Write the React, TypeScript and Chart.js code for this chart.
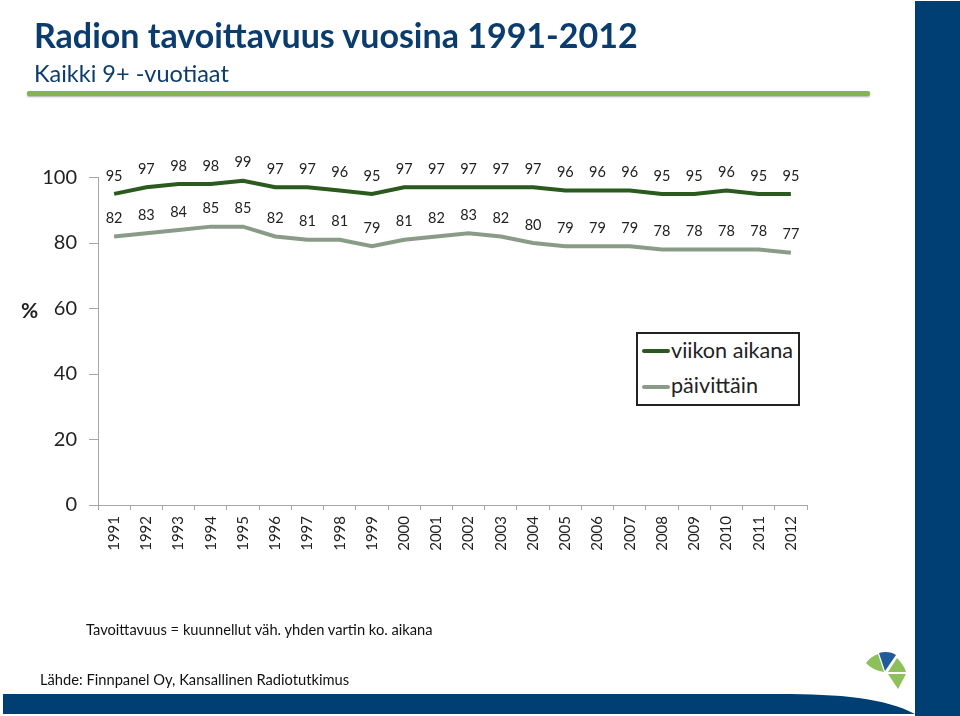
import React, { useEffect, useRef } from "react";
import { Chart, registerables } from "chart.js";

Chart.register(...registerables);

const years = ["1991","1992","1993","1994","1995","1996","1997","1998","1999","2000","2001","2002","2003","2004","2005","2006","2007","2008","2009","2010","2011","2012"];
const weekly = [95,97,98,98,99,97,97,96,95,97,97,97,97,97,96,96,96,95,95,96,95,95];
const daily = [82,83,84,85,85,82,81,81,79,81,82,83,82,80,79,79,79,78,78,78,78,77];
const weeklyName = "viikon aikana";
const dailyName = "päivittäin";
const titleText = "Radion tavoittavuus vuosina 1991-2012";
const subtitleText = "Kaikki 9+ -vuotiaat";
const noteText = "Tavoittavuus = kuunnellut väh. yhden vartin ko. aikana";
const sourceText = "Lähde: Finnpanel Oy, Kansallinen Radiotutkimus";
const unitText = "%";

const FONT = "Lato";
const NAVY = "#003f74";
const WEEKLY_COLOR = "#2b5a1e";
const DAILY_COLOR = "#8a9c88";

const valueLabels = {
  id: "valueLabels",
  afterDatasetsDraw(chart: any) {
    const { ctx } = chart;
    ctx.save();
    ctx.font = `14.5px ${FONT}`;
    ctx.fillStyle = "#222";
    ctx.textAlign = "center";
    ctx.textBaseline = "middle";
    chart.data.datasets.forEach((ds: any, i: number) => {
      chart.getDatasetMeta(i).data.forEach((pt: any, j: number) => {
        ctx.fillText(String(ds.data[j]), pt.x, pt.y - 18);
      });
    });
    ctx.restore();
  },
};

function text(style: React.CSSProperties, content: string) {
  return (
    <div style={{ position: "absolute", whiteSpace: "nowrap", fontFamily: FONT, lineHeight: 1, ...style }}>{content}</div>
  );
}

export default function App() {
  const ref = useRef<HTMLCanvasElement>(null);
  useEffect(() => {
    const chart = new Chart(ref.current!, {
      type: "line",
      data: {
        labels: years,
        datasets: [
          { label: weeklyName, data: weekly, borderColor: WEEKLY_COLOR, borderWidth: 4, pointRadius: 0, tension: 0, clip: false },
          { label: dailyName, data: daily, borderColor: DAILY_COLOR, borderWidth: 4, pointRadius: 0, tension: 0, clip: false },
        ],
      },
      options: {
        responsive: false,
        animation: false,
        layout: { padding: { left: 0, top: 177.5, right: 153, bottom: 151 } },
        plugins: { legend: { display: false }, title: { display: false }, tooltip: { enabled: false } },
        scales: {
          x: {
            offset: true,
            afterFit(scale: any) { scale.height = 60; scale.paddingLeft = 0; scale.paddingRight = 0; },
            border: { color: "#a6a6a6", width: 1 },
            grid: { drawOnChartArea: false, drawTicks: true, tickLength: 5, color: "#a6a6a6", offset: true },
            ticks: { minRotation: 90, maxRotation: 90, autoSkip: false, color: "#222", padding: 6, font: { family: FONT, size: 15 } },
          },
          y: {
            min: 0,
            max: 100,
            afterFit(scale: any) { scale.width = 98; },
            border: { color: "#a6a6a6", width: 1 },
            grid: { drawOnChartArea: false, drawTicks: true, tickLength: 9, color: "#a6a6a6" },
            ticks: { stepSize: 20, color: "#222", padding: 12, font: { family: FONT, size: 20 } },
          },
        },
      },
      plugins: [valueLabels],
    } as any);
    return () => chart.destroy();
  }, []);

  return (
    <div style={{ position: "fixed", left: 0, top: 0, width: 960, height: 716, background: "#fff", overflow: "hidden" }}>
      <canvas ref={ref} width={960} height={716} style={{ position: "absolute", left: 0, top: 0 }} />
      {text({ left: 34, top: 18, fontSize: 34, fontWeight: 700, color: "#0b3c6e" }, titleText)}
      {text({ left: 34, top: 62, fontSize: 23.5, color: "#0b3c6e" }, subtitleText)}
      <div style={{ position: "absolute", left: 27, top: 91, width: 843, height: 5, background: "#84b352", boxShadow: "0 1px 2px #aaa", borderRadius: 2 }} />
      {text({ left: 21, top: 299, fontSize: 21, fontWeight: 700, color: "#222" }, unitText)}
      <div style={{ position: "absolute", left: 636, top: 332, width: 160, height: 70, border: "2.5px solid #222", background: "#fff" }}>
        <div style={{ position: "absolute", left: 4, top: 15, width: 28, height: 4, background: WEEKLY_COLOR, borderRadius: 2 }} />
        <div style={{ position: "absolute", left: 4, top: 51, width: 28, height: 4, background: DAILY_COLOR, borderRadius: 2 }} />
        {text({ left: 33, top: 6, fontSize: 21.6, color: "#222" }, weeklyName)}
        {text({ left: 33, top: 41, fontSize: 21.6, color: "#222" }, dailyName)}
      </div>
      {text({ left: 86, top: 622, fontSize: 14.7, color: "#111" }, noteText)}
      {text({ left: 40, top: 672, fontSize: 14.7, color: "#111" }, sourceText)}
      <svg width={960} height={716} style={{ position: "absolute", left: 0, top: 0, pointerEvents: "none" }}>
        <rect x={915} y={1} width={45} height={715} fill={NAVY} />
        <path d="M3 694 H780 C840 694 885 698 915 714 H3 Z" fill={NAVY} />
        <path d="M866 663 Q870 657 878 654 L884 672 Q872 670 866 663 Z" fill="#8dbf5a" />
        <path d="M879 653 C885 651 892 652 896 655 L885 671 Z" fill="#1f5c99" />
        <path d="M897 658 C902 663 905 668 906 672 L888 672 Z" fill="#8dbf5a" />
        <path d="M888 674 H906 L898 689 Z" fill="#8dbf5a" />
      </svg>
    </div>
  );
}
